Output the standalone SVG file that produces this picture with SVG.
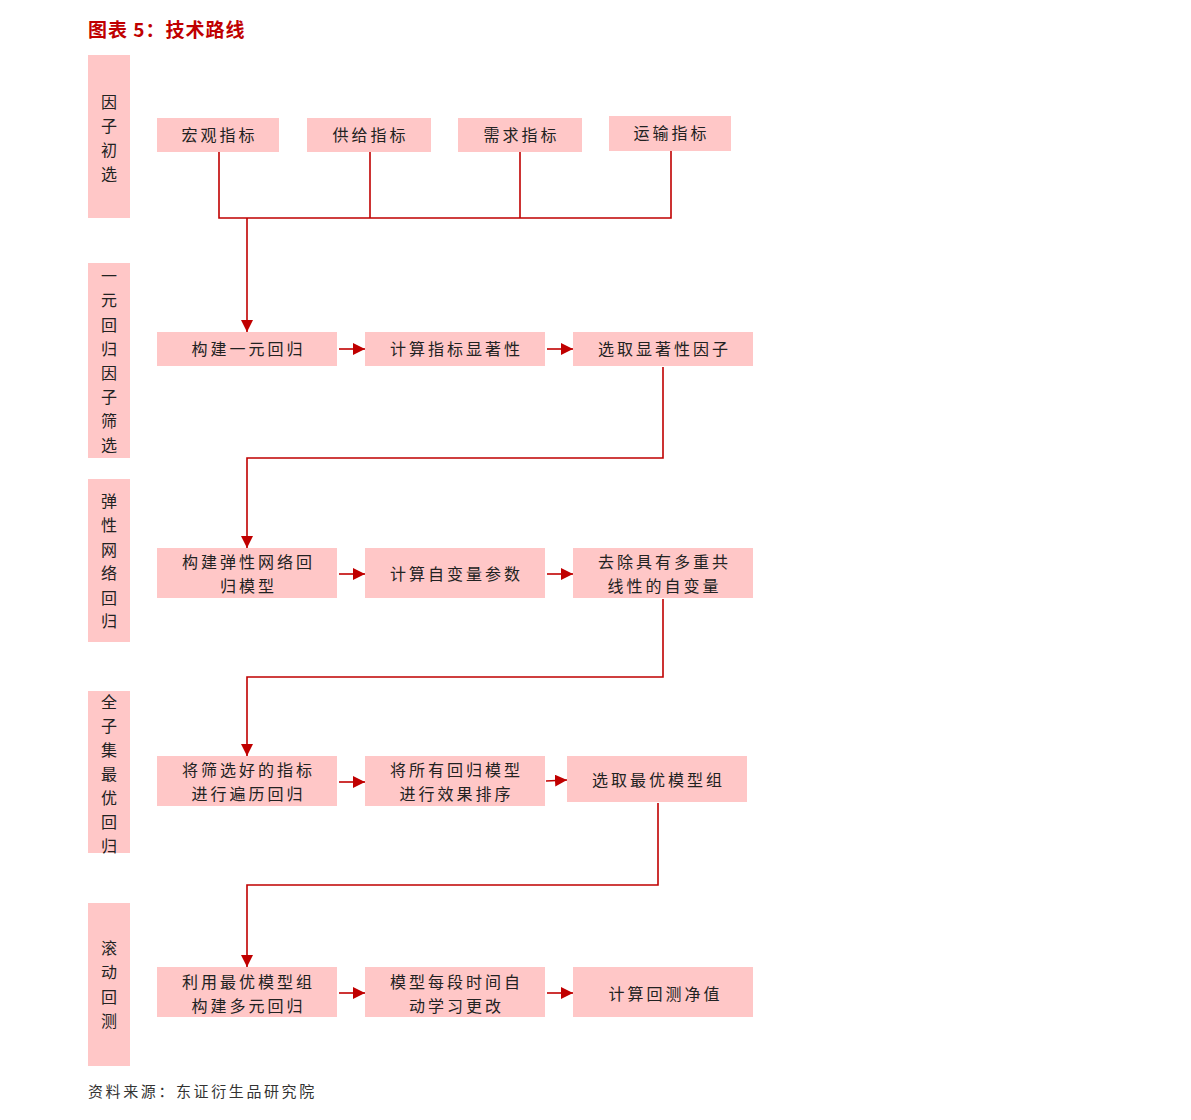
<svg xmlns="http://www.w3.org/2000/svg" width="1191" height="1120" viewBox="0 0 1191 1120">
<defs>
<marker id="ah" viewBox="0 0 10 10" refX="10" refY="5" markerWidth="12" markerHeight="12" markerUnits="userSpaceOnUse" orient="auto">
<path d="M0,0 L10,5 L0,10 Z" fill="#c00000"/>
</marker>
<style>
.box{fill:#ffc7c7;}
.t{font-family:"Noto Sans CJK SC","Liberation Serif",serif;font-size:16px;fill:#222;text-anchor:middle;letter-spacing:3px;}
.v{font-family:"Noto Sans CJK SC","Liberation Serif",serif;font-size:16px;fill:#222;text-anchor:middle;}
.ln{fill:none;stroke:#c00000;stroke-width:1.6;}
.ar{fill:none;stroke:#c00000;stroke-width:1.6;marker-end:url(#ah);}
</style>
</defs>
<rect width="1191" height="1120" fill="#fff"/>
<text x="88" y="37" font-family="Noto Sans CJK SC, serif" font-size="19" font-weight="bold" fill="#c00000" letter-spacing="1">图表 5：技术路线</text>

<g id="stage1"><rect class="box" x="88" y="55" width="42" height="163"/>
<text class="v" x="109" y="108">因</text><text class="v" x="109" y="132">子</text><text class="v" x="109" y="156">初</text><text class="v" x="109" y="180">选</text></g>
<g id="stage2"><rect class="box" x="88" y="263" width="42" height="195"/>
<text class="v" x="109" y="282">一</text><text class="v" x="109" y="306">元</text><text class="v" x="109" y="331">回</text><text class="v" x="109" y="355">归</text><text class="v" x="109" y="379">因</text><text class="v" x="109" y="403">子</text><text class="v" x="109" y="427">筛</text><text class="v" x="109" y="451">选</text></g>
<g id="stage3"><rect class="box" x="88" y="479" width="42" height="163"/>
<text class="v" x="109" y="507">弹</text><text class="v" x="109" y="531">性</text><text class="v" x="109" y="556">网</text><text class="v" x="109" y="579">络</text><text class="v" x="109" y="604">回</text><text class="v" x="109" y="627">归</text></g>
<g id="stage4"><rect class="box" x="88" y="691" width="42" height="162"/>
<text class="v" x="109" y="708">全</text><text class="v" x="109" y="732">子</text><text class="v" x="109" y="756">集</text><text class="v" x="109" y="780">最</text><text class="v" x="109" y="804">优</text><text class="v" x="109" y="828">回</text><text class="v" x="109" y="852">归</text></g>
<g id="stage5"><rect class="box" x="88" y="903" width="42" height="163"/>
<text class="v" x="109" y="954">滚</text><text class="v" x="109" y="978">动</text><text class="v" x="109" y="1003">回</text><text class="v" x="109" y="1027">测</text></g>

<g id="n_macro"><rect class="box" x="157" y="118" width="122" height="34"/><text class="t" x="219.5" y="141">宏观指标</text></g>
<g id="n_supply"><rect class="box" x="307" y="118" width="124" height="34"/><text class="t" x="370.5" y="141">供给指标</text></g>
<g id="n_demand"><rect class="box" x="458" y="118" width="124" height="34"/><text class="t" x="521.5" y="141">需求指标</text></g>
<g id="n_trans"><rect class="box" x="609" y="116" width="122" height="35"/><text class="t" x="671.5" y="139">运输指标</text></g>

<g id="n_r2a"><rect class="box" x="157" y="332" width="180" height="34"/><text class="t" x="248.5" y="355">构建一元回归</text></g>
<g id="n_r2b"><rect class="box" x="365" y="332" width="180" height="34"/><text class="t" x="456.5" y="355">计算指标显著性</text></g>
<g id="n_r2c"><rect class="box" x="573" y="332" width="180" height="34"/><text class="t" x="664.5" y="355">选取显著性因子</text></g>

<g id="n_r3a"><rect class="box" x="157" y="548" width="180" height="50"/><text class="t" x="248.5" y="568">构建弹性网络回</text><text class="t" x="248.5" y="592">归模型</text></g>
<g id="n_r3b"><rect class="box" x="365" y="548" width="180" height="50"/><text class="t" x="456.5" y="580">计算自变量参数</text></g>
<g id="n_r3c"><rect class="box" x="573" y="548" width="180" height="50"/><text class="t" x="664.5" y="568">去除具有多重共</text><text class="t" x="664.5" y="592">线性的自变量</text></g>

<g id="n_r4a"><rect class="box" x="157" y="756" width="180" height="50"/><text class="t" x="248.5" y="776">将筛选好的指标</text><text class="t" x="248.5" y="800">进行遍历回归</text></g>
<g id="n_r4b"><rect class="box" x="365" y="756" width="180" height="50"/><text class="t" x="456.5" y="776">将所有回归模型</text><text class="t" x="456.5" y="800">进行效果排序</text></g>
<g id="n_r4c"><rect class="box" x="567" y="756" width="180" height="46"/><text class="t" x="658.5" y="786">选取最优模型组</text></g>

<g id="n_r5a"><rect class="box" x="157" y="967" width="180" height="50"/><text class="t" x="248.5" y="988">利用最优模型组</text><text class="t" x="248.5" y="1012">构建多元回归</text></g>
<g id="n_r5b"><rect class="box" x="365" y="967" width="180" height="50"/><text class="t" x="456.5" y="988">模型每段时间自</text><text class="t" x="456.5" y="1012">动学习更改</text></g>
<g id="n_r5c"><rect class="box" x="573" y="967" width="180" height="50"/><text class="t" x="665.5" y="1000">计算回测净值</text></g>

<g id="connectors">
<path class="ln" d="M219,152 V218 H671 V151"/>
<path class="ln" d="M370,152 V218"/>
<path class="ln" d="M520,152 V218"/>
<path class="ar" d="M247,218 V332"/>
<path class="ar" d="M339,349 H365"/>
<path class="ar" d="M547,349 H573"/>
<path class="ar" d="M663,367 V458 H247 V548"/>
<path class="ar" d="M339,574 H365"/>
<path class="ar" d="M547,574 H573"/>
<path class="ar" d="M663,599 V677 H247 V756"/>
<path class="ar" d="M339,782 H365"/>
<path class="ar" d="M546,781 L567,780"/>
<path class="ar" d="M658,803 V885 H247 V967"/>
<path class="ar" d="M339,993 H365"/>
<path class="ar" d="M547,993 H573"/>
</g>

<text x="88" y="1097" font-family="Noto Sans CJK SC, serif" font-size="15" fill="#333" letter-spacing="2.6">资料来源：东证衍生品研究院</text>
</svg>
